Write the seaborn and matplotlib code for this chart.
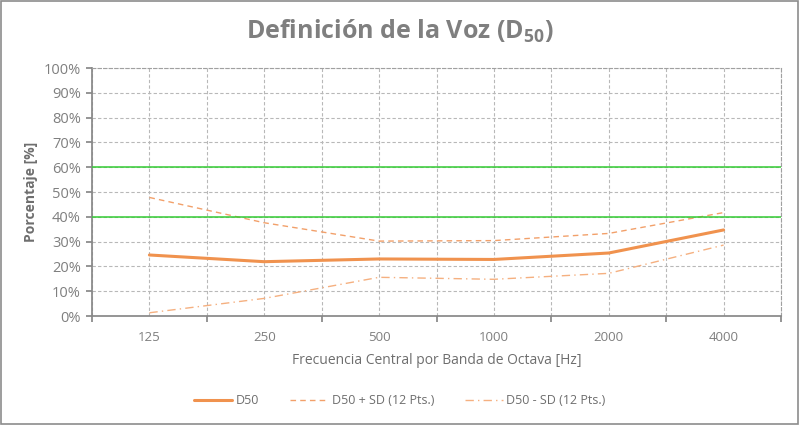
import matplotlib
matplotlib.use("Agg")
import matplotlib.pyplot as plt
import seaborn as sns
import pandas as pd
import numpy as np
from matplotlib.patches import Rectangle
from matplotlib.lines import Line2D

freqs = ["125", "250", "500", "1000", "2000", "4000"]
d50 = [24.6, 21.9, 23.0, 22.8, 25.4, 34.7]
d50_plus = [47.8, 37.6, 30.2, 30.4, 33.3, 41.7]
d50_minus = [1.3, 7.1, 15.6, 14.8, 17.2, 28.6]
limits = [40, 60]
yticks = list(range(0, 101, 10))

sns.set_theme(style="white")
plt.rcParams['font.family'] = ['Open Sans', 'DejaVu Sans']

fig = plt.figure(figsize=(8, 4.25), dpi=100)
ax = fig.add_axes([92/800, 1-316/425, (781-92)/800, (316-68)/425])

c_main = "#F0924E"
c_plus = "#F2A06A"
c_minus = "#F5B080"
df = pd.DataFrame({"f": freqs, "D50": d50, "plus": d50_plus, "minus": d50_minus})
sns.lineplot(data=df, x="f", y="D50", ax=ax, color=c_main, lw=2.2, sort=False)
sns.lineplot(data=df, x="f", y="plus", ax=ax, color=c_plus, lw=1.0, sort=False, linestyle=(0, (4, 3)))
sns.lineplot(data=df, x="f", y="minus", ax=ax, color=c_minus, lw=1.0, sort=False, linestyle=(0, (6, 3, 1, 3)))

for v in limits:
    ax.axhline(v, color="#33CC33", lw=1.1, zorder=3)

ax.set_xlim(-0.5, 5.5)
ax.set_ylim(0, 100)
ax.set_yticks(yticks)
ax.set_yticklabels([f"{t}%" for t in yticks])
ax.set_xticks(np.arange(-0.5, 6, 1.0))
ax.set_xticklabels([""] * 7)
ax.set_xticks(np.arange(0, 6), minor=True)
ax.set_xticklabels(freqs, minor=True)
ax.tick_params(axis="x", which="minor", length=0, pad=11, labelsize=9.5, labelcolor="#7F7F7F")
ax.tick_params(axis="x", which="major", length=4, color="#888888", direction="out", bottom=True)
ax.tick_params(axis="y", length=4, color="#888888", direction="out", left=True, labelsize=10.5,
               labelcolor="#7F7F7F", pad=4)

gkw = dict(color="#B8B8B8", lw=0.8, linestyle=(0, (3, 2)), zorder=0)
for v in yticks:
    ax.axhline(v, **gkw)
for x in np.arange(-0.5, 6, 0.5):
    ax.axvline(x, **gkw)

for s in ["top", "right"]:
    ax.spines[s].set_color("#A0A0A0")
    ax.spines[s].set_linestyle((0, (3, 2)))
    ax.spines[s].set_linewidth(0.8)
ax.spines["left"].set_color("#888888")
ax.spines["bottom"].set_color("#888888")

ax.set_xlabel("Frecuencia Central por Banda de Octava [Hz]", fontsize=10, color="#6E6E6E", labelpad=6)
ax.set_ylabel("Porcentaje [%]", fontsize=10, color="#6E6E6E", fontweight="bold", labelpad=4)

fig.text(0.5, 0.925, r"Definición de la Voz (D$_{\mathregular{50}}$)", ha="center", va="center",
         fontsize=18, fontweight="bold", color="#7F7F7F")

handles = [
    Line2D([], [], color=c_main, lw=2.2),
    Line2D([], [], color=c_plus, lw=1.0, linestyle=(0, (4, 3))),
    Line2D([], [], color=c_minus, lw=1.0, linestyle=(0, (6, 3, 1, 3))),
]
leg = fig.legend(handles, ["D50", "D50 + SD (12 Pts.)", "D50 - SD (12 Pts.)"], loc="center",
                 bbox_to_anchor=(0.5, 1-401/425), ncol=3, frameon=False, fontsize=9,
                 handlelength=3, columnspacing=2.5, handletextpad=0.3)
for t in leg.get_texts():
    t.set_color("#6E6E6E")

fig.add_artist(Rectangle((0.001, 0.002), 0.997, 0.995, transform=fig.transFigure, fill=False,
                         edgecolor="#8C8C8C", lw=1.2))

fig.savefig("out.png", dpi=100)
